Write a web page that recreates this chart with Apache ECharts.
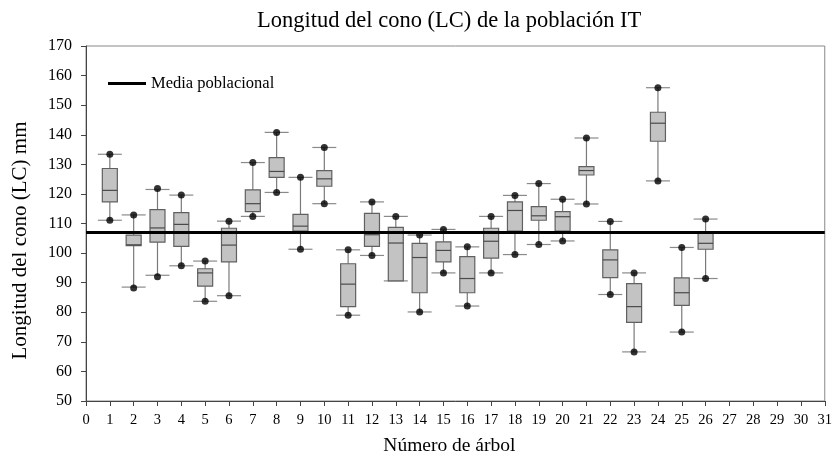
<!DOCTYPE html>
<html>
<head>
<meta charset="utf-8">
<script src="https://cdn.jsdelivr.net/npm/echarts@6/dist/echarts.min.js"></script>
<style>html,body{margin:0;padding:0;background:#fff}#c{width:835px;height:461px}</style>
</head>
<body>
<div id="c"></div>
<script>
var trees    = [1,2,3,4,5,6,7,8,9,10,11,12,13,14,15,16,17,18,19,20,21,22,23,24,25,26];
var whiskLow = [111.1,88.5,92.5,95.7,83.7,85.6,112.4,120.5,101.3,116.7,79.0,99.2,90.6,80.1,93.3,82.1,93.3,99.5,102.9,104.1,116.6,86.0,66.6,124.4,73.3,91.4];
var q1       = [117.3,102.5,103.7,102.3,88.8,97.0,114.0,125.6,107.4,122.6,81.9,102.3,90.6,86.6,97.0,86.6,98.3,107.4,111.1,107.4,126.4,91.7,76.6,137.8,82.3,101.3];
var median   = [121.2,102.8,108.5,109.7,93.3,102.7,116.7,127.6,109.1,125.1,89.5,106.2,103.4,98.5,100.9,91.4,104.0,114.4,112.6,112.3,127.9,97.7,81.9,143.9,86.6,103.3];
var q3       = [128.6,106.1,114.7,113.7,94.7,108.4,121.4,132.3,113.1,127.9,96.4,113.4,108.7,103.3,103.8,98.8,108.4,117.3,115.7,114.0,129.2,101.1,89.7,147.6,91.6,107.0];
var whiskHigh= [133.4,112.9,121.5,119.6,97.3,110.8,130.6,140.8,125.6,135.7,101.1,117.3,112.4,106.1,108.0,102.1,112.4,119.5,123.5,118.2,138.9,110.7,93.3,155.9,101.9,111.5];
var dotLow   = [111.1,88.2,92.0,95.7,83.7,85.6,112.4,120.5,101.3,116.7,79.0,99.2,null,80.1,93.3,82.1,93.3,99.5,102.9,104.1,116.6,86.0,66.6,124.4,73.3,91.4];
var dotHigh  = [133.4,112.9,121.8,119.6,97.3,110.8,130.6,140.8,125.6,135.7,101.1,117.3,112.4,106.1,108.0,102.1,112.4,119.5,123.5,118.2,138.9,110.7,93.3,155.9,101.9,111.5];
var populationMean = 107.0;
var xTicks = {min: 0, max: 31, step: 1};
var yTicks = {min: 50, max: 170, step: 10};

var boxData = trees.map(function(t, i){ return [t, whiskLow[i], q1[i], median[i], q3[i], whiskHigh[i]]; });
var dots = [];
trees.forEach(function(t, i){
  if (dotLow[i] != null) dots.push([t, dotLow[i]]);
  if (dotHigh[i] != null) dots.push([t, dotHigh[i]]);
});

var serif = '"Liberation Serif", "Times New Roman", serif';
var chart = echarts.init(document.getElementById('c'), null, {renderer: 'canvas'});
chart.setOption({
  animation: false,
  backgroundColor: '#fff',
  title: {
    text: 'Longitud del cono (LC) de la población IT',
    left: 252, top: 5,
    textStyle: {fontFamily: serif, fontSize: 22.5, fontWeight: 'normal', color: '#000'}
  },
  legend: {
    data: ['Media poblacional'],
    left: 103, top: 70,
    icon: 'rect', itemWidth: 38, itemHeight: 3,
    textStyle: {fontFamily: serif, fontSize: 16.5, color: '#000'}
  },
  grid: {left: 86, right: 7, top: 46, bottom: 57, show: true, borderColor: '#888', borderWidth: 1, backgroundColor: 'transparent'},
  xAxis: {
    type: 'value', min: xTicks.min, max: xTicks.max, interval: xTicks.step,
    name: 'Número de árbol', nameLocation: 'middle', nameGap: 35,
    nameTextStyle: {fontFamily: serif, fontSize: 19.5, color: '#000', padding: [0, 12, 0, 0]},
    axisLine: {lineStyle: {color: '#444'}},
    axisTick: {length: 5, lineStyle: {color: '#444'}},
    axisLabel: {fontFamily: serif, fontSize: 14.5, color: '#000', margin: 12},
    splitLine: {show: false}
  },
  yAxis: {
    type: 'value', min: yTicks.min, max: yTicks.max, interval: yTicks.step,
    name: 'Longitud del cono (LC) mm', nameLocation: 'middle', nameGap: 55,
    nameTextStyle: {fontFamily: serif, fontSize: 21, color: '#000', padding: [0, 34, 0, 0]},
    axisLine: {show: true, lineStyle: {color: '#444'}},
    axisTick: {show: true, length: 5, lineStyle: {color: '#444'}},
    axisLabel: {fontFamily: serif, fontSize: 16, color: '#000', margin: 14},
    splitLine: {show: false}
  },
  series: [
    {
      type: 'custom',
      name: 'boxes',
      data: boxData,
      encode: {x: 0, y: [1, 2, 3, 4, 5]},
      z: 2,
      renderItem: function(params, api){
        var x = api.value(0);
        var pLow = api.coord([x, api.value(1)]);
        var pQ1 = api.coord([x, api.value(2)]);
        var pMed = api.coord([x, api.value(3)]);
        var pQ3 = api.coord([x, api.value(4)]);
        var pHigh = api.coord([x, api.value(5)]);
        var cx = pLow[0];
        var bw = 7.5, cw = 12;
        var wStyle = {stroke: '#7a7a7a', lineWidth: 1.2};
        return {
          type: 'group',
          children: [
            {type: 'line', shape: {x1: cx, y1: pLow[1], x2: cx, y2: pQ1[1]}, style: wStyle},
            {type: 'line', shape: {x1: cx, y1: pQ3[1], x2: cx, y2: pHigh[1]}, style: wStyle},
            {type: 'line', shape: {x1: cx - cw, y1: pLow[1], x2: cx + cw, y2: pLow[1]}, style: {stroke: '#8a8a8a', lineWidth: 1.2}},
            {type: 'line', shape: {x1: cx - cw, y1: pHigh[1], x2: cx + cw, y2: pHigh[1]}, style: {stroke: '#8a8a8a', lineWidth: 1.2}},
            {type: 'rect', shape: {x: cx - bw, y: pQ3[1], width: bw * 2, height: pQ1[1] - pQ3[1]}, style: {fill: '#c3c3c3', stroke: '#606060', lineWidth: 1.2}},
            {type: 'line', shape: {x1: cx - bw, y1: pMed[1], x2: cx + bw, y2: pMed[1]}, style: {stroke: '#4a4a4a', lineWidth: 1.2}}
          ]
        };
      }
    },
    {
      type: 'line',
      name: 'Media poblacional',
      data: [[xTicks.min, populationMean], [xTicks.max, populationMean]],
      symbol: 'none',
      lineStyle: {color: '#000', width: 3},
      itemStyle: {color: '#000'},
      z: 3
    },
    {
      type: 'scatter',
      name: 'dots',
      data: dots,
      symbol: 'circle',
      symbolSize: 7,
      itemStyle: {color: '#000'},
      z: 4
    }
  ]
});
</script>
</body>
</html>
